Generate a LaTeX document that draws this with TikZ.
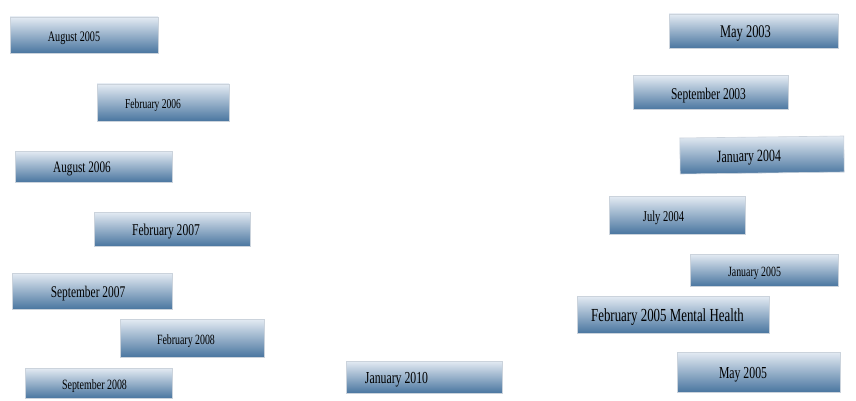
\documentclass[tikz,border=0pt]{standalone}
\usepackage{fontspec}
\setmainfont{Liberation Serif}[FakeStretch=0.7]
\usepackage{tikz}
\usetikzlibrary{positioning}

\definecolor{boxtop}{HTML}{E4EBF3}
\definecolor{boxmid}{HTML}{A9C0D6}
\definecolor{boxbot}{HTML}{4A76A0}
\definecolor{boxedge}{HTML}{CBD3DC}

\begin{document}
\begin{tikzpicture}[x=1pt, y=-1pt,
  datebox/.style args={#1x#2}{rectangle, draw=boxedge, line width=0.6pt,
    top color=boxtop, middle color=boxmid, bottom color=boxbot,
    inner sep=0pt, minimum width=#1, minimum height=#2},
  datetext/.style={inner sep=0pt, text=black, font=\fontsize{#1}{#1}\selectfont}
]
  \useasboundingbox (0,0) rectangle (856,401);

  % left column
  \node[datebox=148x36] (aug05) at (84,35) {};
  \node[datetext=14.5] (aug05-t) at (74,38) {August 2005};
  \node[datebox=132x37] (feb06) at (163,102.5) {};
  \node[datetext=13.6] (feb06-t) at (153,105.5) {February 2006};
  \node[datebox=157x31] (aug06) at (93.5,166.5) {};
  \node[datetext=16] (aug06-t) at (82,169) {August 2006};
  \node[datebox=156x34] (feb07) at (172,229) {};
  \node[datetext=16.5] (feb07-t) at (166,232) {February 2007};
  \node[datebox=160x36] (sep07) at (92,291) {};
  \node[datetext=16.3] (sep07-t) at (88,294) {September 2007};
  \node[datebox=144x38] (feb08) at (192,338) {};
  \node[datetext=14.1] (feb08-t) at (186,341) {February 2008};
  \node[datebox=147x30] (sep08) at (98.5,383) {};
  \node[datetext=14.2] (sep08-t) at (94.5,386) {September 2008};

  % bottom middle
  \node[datebox=156x32] (jan10) at (424,377) {};
  \node[datetext=16.8] (jan10-t) at (396.5,380) {January 2010};

  % right column
  \node[datebox=169x34] (may03) at (753.5,31) {};
  \node[datetext=17.8] (may03-t) at (745.5,34) {May 2003};
  \node[datebox=155x34] (sep03) at (710.5,92.5) {};
  \node[datetext=16.4] (sep03-t) at (708.5,95.5) {September 2003};
  \node[datebox=164x36, rotate=0.7] (jan04) at (762,155) {};
  \node[datetext=17.1, rotate=0.7] (jan04-t) at (749,158) {January 2004};
  \node[datebox=136x38] (jul04) at (677,215) {};
  \node[datetext=15] (jul04-t) at (663.5,218) {July 2004};
  \node[datebox=148x32] (jan05) at (764,270) {};
  \node[datetext=14.1] (jan05-t) at (754.5,273) {January 2005};
  \node[datebox=192x37] (feb05) at (673,314.5) {};
  \node[datetext=18.4] (feb05-t) at (667.5,317.5) {February 2005 Mental Health};
  \node[datebox=163x40] (may05) at (758.5,372) {};
  \node[datetext=16.8] (may05-t) at (743,375) {May 2005};
\end{tikzpicture}
\end{document}
